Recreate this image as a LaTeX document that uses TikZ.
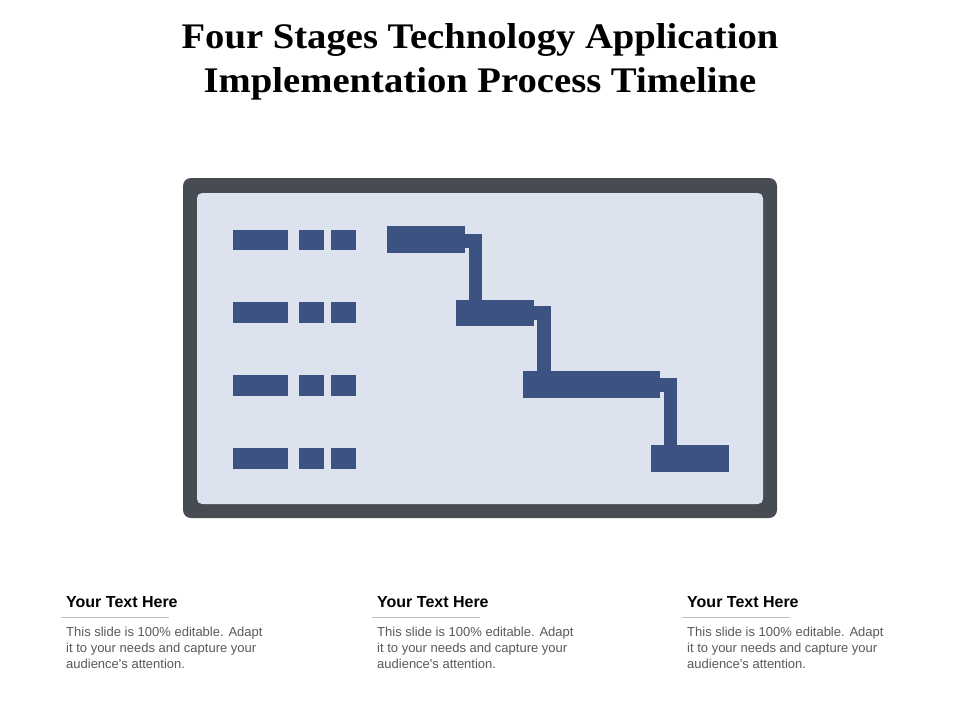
\documentclass[tikz,border=0pt]{standalone}
\usepackage{fontspec}
\setmainfont{Liberation Serif}
\setsansfont{Liberation Sans}
\newfontfamily\titlefont[FakeStretch=1.074]{Liberation Serif}
\definecolor{framegray}{HTML}{474C52}
\definecolor{panel}{HTML}{DCE2EE}
\definecolor{barblue}{HTML}{3C5280}
\definecolor{bodygray}{HTML}{595959}
\definecolor{rulegray}{HTML}{BFBFBF}
\tikzset{
  bar/.style={fill=barblue, draw=none, inner sep=0pt, outer sep=0pt, minimum height=26.7pt},
  rowbar/.style={fill=barblue, draw=none, inner sep=0pt, outer sep=0pt, minimum height=20.5pt},
  conn/.style={draw=barblue, line width=13.5pt, line join=miter},
  head/.style={font=\sffamily\bfseries\fontsize{16}{19}\selectfont, text=black, anchor=base west, inner sep=0pt},
  body/.style={font=\sffamily\fontsize{13}{16}\selectfont, text=bodygray, anchor=north west, inner sep=0pt, align=left},
  titlestyle/.style={font=\titlefont\bfseries\fontsize{36}{44}\selectfont, align=center, inner sep=0pt, anchor=base}
}
\begin{document}
\begin{tikzpicture}[x=1pt,y=-1pt]
\useasboundingbox (0,0) rectangle (960,720);
\fill[white] (0,0) rectangle (960,720);
% title
\node[titlestyle] (title) at (480,92) {Four Stages Technology Application\\Implementation Process Timeline};
% frame
\fill[framegray, rounded corners=8pt] (183,178) rectangle (777,518);
\fill[panel, rounded corners=5pt] (197,193) rectangle (763,504);
% left rows
\foreach \i/\y in {1/239.9,2/312.7,3/385.7,4/458.5}{
  \node[rowbar, minimum width=55.2pt] (l\i) at (260.8,\y) {};
  \node[rowbar, minimum width=25.3pt] (s\i) at (311.4,\y) {};
  \node[rowbar, minimum width=25.3pt] (t\i) at (343.6,\y) {};
}
% gantt bars
\node[bar, minimum width=78pt, minimum height=27pt] (b1) at (426,239.8) {};
\node[bar, minimum width=78pt] (b2) at (494.7,313) {};
\node[bar, minimum width=137pt] (b3) at (591.7,384.7) {};
\node[bar, minimum width=78pt] (b4) at (689.6,458.7) {};
% connectors
\draw[conn] ([yshift=-1pt]b1.east) -| ([xshift=20pt]b2.north west);
\draw[conn] (b2.east) -| ([xshift=20.9pt]b3.north west);
\draw[conn] ([yshift=-0.5pt]b3.east) -| ([xshift=20pt]b4.north west);
% text blocks
\foreach \k/\x in {1/66,2/377,3/687}{
  \node[head] (h\k) at (\x,607.5) {Your Text Here};
  \coordinate (ra\k) at (\x-5,617);
  \coordinate (rb\k) at (\x+103,617);
  \draw[rulegray, line width=0.9pt] (ra\k) -- (rb\k);
  \node[body] (p\k) at (\x,627) {This slide is 100\% editable. Adapt\\it to your needs and capture your\\audience\textquotesingle s attention.};
}
\end{tikzpicture}
\end{document}
